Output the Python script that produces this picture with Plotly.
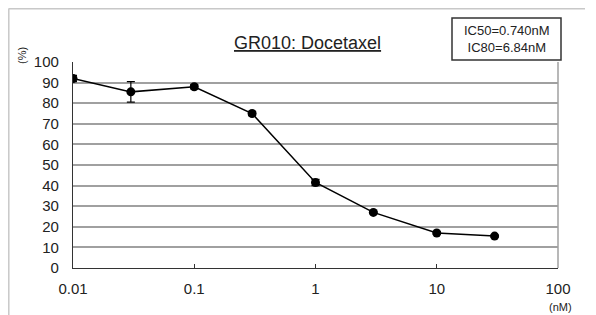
import plotly.graph_objects as go

concentrations = [0.01, 0.03, 0.1, 0.3, 1, 3, 10, 30]
viability = [92, 85.5, 88, 75, 41.5, 27, 17, 15.5]
errors = [1.5, 5, 1, 1, 1.5, 0.5, 0.5, 0.5]
x_ticks = [0.01, 0.1, 1, 10, 100]
x_tick_labels = ["0.01", "0.1", "1", "10", "100"]
y_ticks = list(range(0, 101, 10))
title_text = "GR010: Docetaxel"
ic_text = "IC50=0.740nM<br>IC80=6.84nM"

# page is drawn with an 8px body margin; shift targets accordingly
OFF = 8
W, H = 596, 315
L, R, T, B = 73 - OFF, 558 - OFF, 62 - OFF, 268 - OFF

def px(xp):
    return (xp - OFF - L) / (R - L)

def py(yp):
    return (B - (yp - OFF)) / (B - T)

fig = go.Figure()
fig.add_trace(go.Scatter(
    x=concentrations, y=viability,
    mode="lines+markers",
    line=dict(color="black", width=1.5),
    marker=dict(color="black", size=9),
    error_y=dict(type="data", array=errors, color="black", thickness=1.2, width=4),
    showlegend=False,
))

font = "Liberation Sans, Arial, sans-serif"

fig.update_layout(
    width=W, height=H,
    margin=dict(l=L, r=W - R, t=T, b=H - B),
    paper_bgcolor="white", plot_bgcolor="white",
    font=dict(family=font, color="#222", size=15),
    xaxis=dict(
        type="log", range=[-2, 2],
        tickvals=x_ticks, ticktext=x_tick_labels,
        showgrid=False, zeroline=False,
        showline=True, linecolor="#333", linewidth=1.2,
        ticks="inside", ticklen=4, tickcolor="#333",
        ticklabelstandoff=7,
        tickfont=dict(size=15, color="#222"),
    ),
    yaxis=dict(
        range=[0, 100], tickvals=y_ticks,
        showgrid=True, gridcolor="#a0a0a0", gridwidth=1.5,
        zeroline=False,
        showline=True, linecolor="#333", linewidth=1.2,
        ticks="", ticklabelstandoff=10,
        tickfont=dict(size=15, color="#222"),
    ),
)

# right border of plot area
fig.add_shape(type="line", xref="paper", yref="paper", x0=1, x1=1, y0=0, y1=1,
              line=dict(color="#a0a0a0", width=1.5))
# outer frame lines (top, left)
fig.add_shape(type="line", xref="paper", yref="paper", x0=px(8.5), x1=px(585), y0=py(8.8), y1=py(8.8),
              line=dict(color="#c8c8c8", width=1.5))
fig.add_shape(type="line", xref="paper", yref="paper", x0=px(8.8), x1=px(8.8), y0=py(8.8), y1=py(330),
              line=dict(color="#c8c8c8", width=1.5))
# IC box
fig.add_shape(type="rect", xref="paper", yref="paper", x0=px(452), x1=px(561), y0=py(60), y1=py(18),
              line=dict(color="#333", width=1.5), fillcolor="white")

fig.add_annotation(text="<u>" + title_text + "</u>", xref="paper", yref="paper",
                   x=px(307), y=py(43), xanchor="center", yanchor="middle",
                   showarrow=False, font=dict(size=18, color="#222"))
fig.add_annotation(text=ic_text, xref="paper", yref="paper",
                   x=px(506.5), y=py(39), xanchor="center", yanchor="middle",
                   showarrow=False, font=dict(size=13, color="#222"))
fig.add_annotation(text="(%)", xref="paper", yref="paper", textangle=-90,
                   x=px(22), y=py(56), xanchor="center", yanchor="middle",
                   showarrow=False, font=dict(size=11, color="#222"))
fig.add_annotation(text="(nM)", xref="paper", yref="paper",
                   x=px(560), y=py(307), xanchor="center", yanchor="middle",
                   showarrow=False, font=dict(size=11, color="#222"))

fig.write_html("out.html")
